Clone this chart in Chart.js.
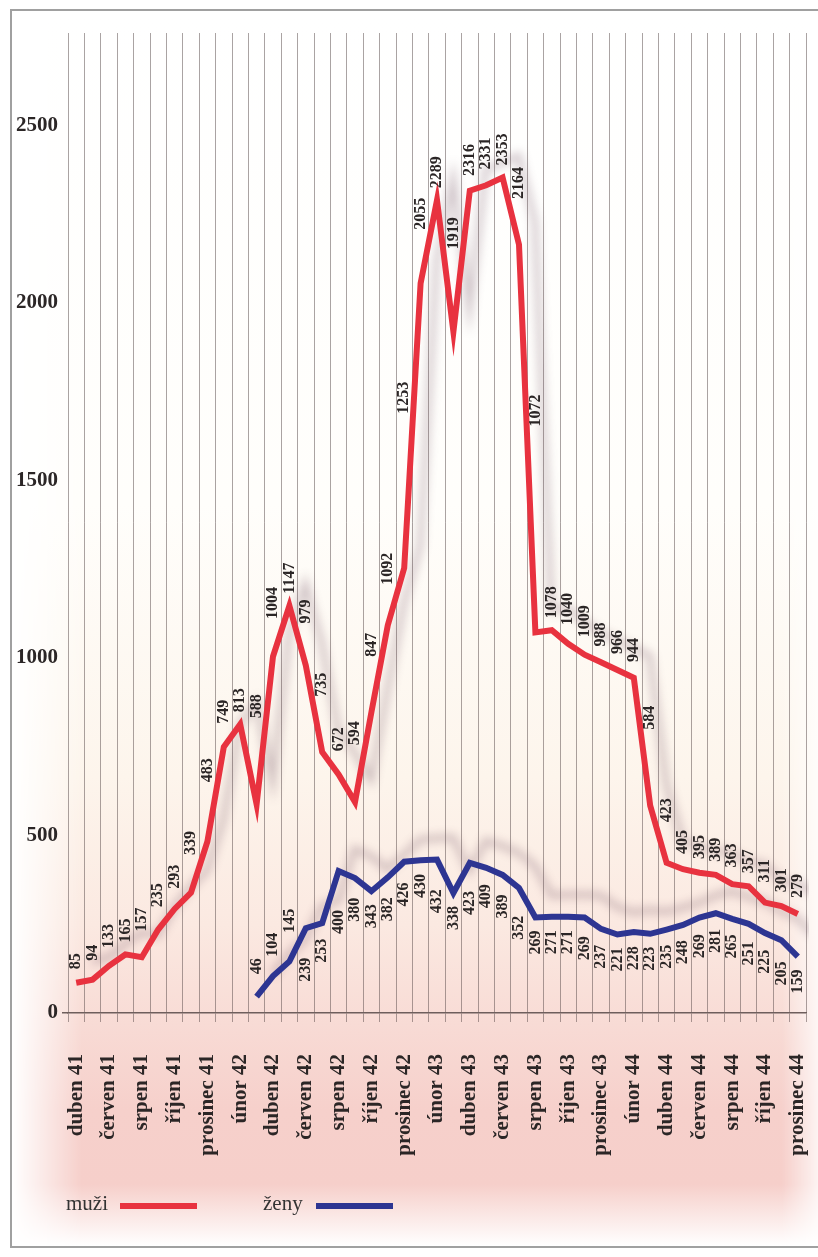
<!DOCTYPE html>
<html>
<head>
<meta charset="utf-8">
<script src="https://cdn.jsdelivr.net/npm/chart.js@4.4.1/dist/chart.umd.min.js"></script>
<style>
  html, body { margin: 0; padding: 0; background: #fff; }
  #page { position: relative; width: 818px; height: 1257px; overflow: hidden; }
  #frame { position: absolute; left: 10px; top: 9px; width: 830px; height: 1239px; border: 2px solid #a0a0a0; box-sizing: border-box; }
  #tintH { position: absolute; left: 12px; top: 11px; right: 0; bottom: 11px;
    -webkit-mask-image: linear-gradient(to right, transparent 0, #000 70px, #000 770px, transparent 818px);
    mask-image: linear-gradient(to right, transparent 0, #000 70px, #000 770px, transparent 818px); }
  #tint { width: 100%; height: 100%;
    background: linear-gradient(to bottom, #fff 0, #fffefb 40%, #fdf5ec 62%, #fbe9e1 74%, #f8dbd5 82%, #f6d0cb 89%, #f6cfca 95%, #fff 100%); }
  canvas { position: absolute; left: 0; top: 0; }
  .leg { position: absolute; font: 21px "Liberation Serif", serif; color: #333; line-height: 1; }
  .sw { position: absolute; height: 6px; width: 77px; }
</style>
</head>
<body>
<div id="page">
  <div id="tintH"><div id="tint"></div></div>
  <div id="frame"></div>
  <canvas id="deportace-chart" width="818" height="1257"></canvas>
  <div class="leg" style="left:66px;top:1193px">muži</div>
  <div class="sw" style="left:120px;top:1203px;background:#e8323f"></div>
  <div class="leg" style="left:263px;top:1193px">ženy</div>
  <div class="sw" style="left:316px;top:1203px;background:#2d3592"></div>
</div>
<script>
// mesice duben 1941 - prosinec 1944
var months = [
  "duben 41", "květen 41", "červen 41", "červenec 41", "srpen 41", "září 41", "říjen 41", "listopad 41", "prosinec 41",
  "leden 42", "únor 42", "březen 42", "duben 42", "květen 42", "červen 42", "červenec 42", "srpen 42", "září 42", "říjen 42", "listopad 42", "prosinec 42",
  "leden 43", "únor 43", "březen 43", "duben 43", "květen 43", "červen 43", "červenec 43", "srpen 43", "září 43", "říjen 43", "listopad 43", "prosinec 43",
  "leden 44", "únor 44", "březen 44", "duben 44", "květen 44", "červen 44", "červenec 44", "srpen 44", "září 44", "říjen 44", "listopad 44", "prosinec 44"
];

var muzi = [
  85, 94, 133, 165, 157, 235, 293, 339, 483,
  749, 813, 588, 1004, 1147, 979, 735, 672, 594, 847, 1092, 1253,
  2055, 2289, 1919, 2316, 2331, 2353, 2164, 1072, 1078, 1040, 1009, 988,
  966, 944, 584, 423, 405, 395, 389, 363, 357, 311, 301, 279
];

var zeny = [
  null, null, null, null, null, null, null, null, null,
  null, null, 46, 104, 145, 239, 253, 400, 380, 343, 382, 426,
  430, 432, 338, 423, 409, 389, 352, 269, 271, 271, 269, 237,
  221, 228, 223, 235, 248, 269, 281, 265, 251, 225, 205, 159
];

var yTicks = [0, 500, 1000, 1500, 2000, 2500];

var serif = '"Liberation Serif", "DejaVu Serif", serif';

// rozmazany stin pod carami
var shadowPlugin = {
  id: 'lineShadow',
  beforeDatasetDraw: function(chart) {
    var c = chart.ctx;
    c.save();
    c.shadowColor = 'rgba(110, 75, 95, 0.33)';
    c.shadowBlur = 10;
    c.shadowOffsetX = 16;
    c.shadowOffsetY = -22;
  },
  afterDatasetDraw: function(chart) {
    chart.ctx.restore();
  }
};

// svisle popisky hodnot - nad/pod caru, aby nelezly do sousednich useku
var valueLabels = {
  id: 'valueLabels',
  afterDatasetsDraw: function(chart) {
    var c = chart.ctx;
    chart.data.datasets.forEach(function(ds, di) {
      var pts = chart.getDatasetMeta(di).data;
      pts.forEach(function(pt, i) {
        var v = ds.data[i];
        if (v === null || v === undefined) return;
        var below = di === 1 && i >= 14;
        // y okolnich useku (polovina cesty k sousedum)
        var ys = [pt.y];
        [i - 1, i + 1].forEach(function(j) {
          if (j >= 0 && j < pts.length && ds.data[j] !== null) ys.push((pt.y + pts[j].y) / 2);
        });
        var y = below ? Math.max.apply(null, ys) + 13 : Math.min.apply(null, ys) - 12;
        c.save();
        c.translate(pt.x, y);
        c.rotate(-Math.PI / 2);
        c.font = 'bold 16px ' + serif;
        c.fillStyle = '#2b2626';
        c.textBaseline = 'middle';
        c.textAlign = below ? 'right' : 'left';
        c.fillText(String(v), 0, 0);
        c.restore();
      });
    });
  }
};

var ctx = document.getElementById('deportace-chart').getContext('2d');
var myChart = new Chart(ctx, {
  type: 'line',
  data: {
    labels: months,
    datasets: [
      { label: 'muži', data: muzi, borderColor: '#e8323f', borderWidth: 6, pointRadius: 0, tension: 0, borderJoinStyle: 'miter', fill: false },
      { label: 'ženy', data: zeny, borderColor: '#2d3592', borderWidth: 6, pointRadius: 0, tension: 0, borderJoinStyle: 'miter', fill: false }
    ]
  },
  options: {
    responsive: false,
    animation: false,
    events: [],
    layout: { padding: { top: 33, right: 12, left: 10, bottom: 94 } },
    plugins: { legend: { display: false }, tooltip: { enabled: false } },
    scales: {
      x: {
        type: 'category',
        offset: true,
        grid: { offset: true, color: 'rgba(85, 72, 72, 0.5)', lineWidth: 1, tickLength: 9, drawTicks: true },
        border: { display: true, color: '#6e5e5c', width: 1.5 },
        ticks: {
          autoSkip: false, minRotation: 90, maxRotation: 90, padding: 32,
          color: '#2b2626', font: { family: serif, size: 21, weight: 'bold' },
          callback: function(v, i) { return i % 2 === 0 ? months[i] : ''; }
        },
        afterFit: function(s) { s.height = 150; s.paddingLeft = 0; s.paddingRight = 0; }
      },
      y: {
        min: 0, max: 2760,
        afterBuildTicks: function(s) { s.ticks = yTicks.map(function(v) { return { value: v }; }); },
        grid: {
          drawOnChartArea: false, drawTicks: true, tickLength: 6, lineWidth: 1.5,
          color: function(c) { return c.tick && c.tick.value === 0 ? '#6e5e5c' : 'rgba(0,0,0,0)'; }
        },
        border: { display: false },
        ticks: {
          padding: 4, color: '#2b2626', font: { family: serif, size: 21, weight: 'bold' },
          callback: function(v) { return String(v); }
        },
        afterFit: function(s) { s.width = 58; s.paddingTop = 0; s.paddingBottom = 0; }
      }
    }
  },
  plugins: [shadowPlugin, valueLabels]
});
</script>
</body>
</html>
